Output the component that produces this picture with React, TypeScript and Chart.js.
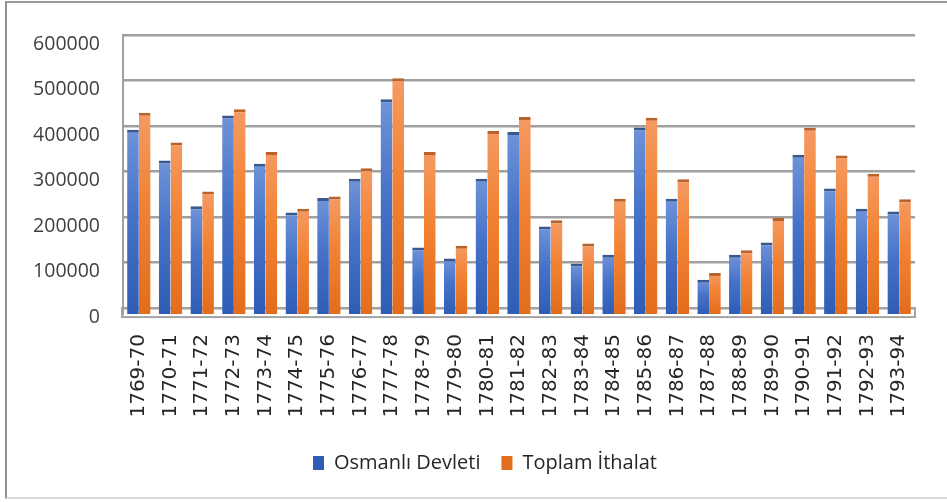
import React, { useEffect, useRef } from "react";
import { Chart, registerables } from "chart.js";

Chart.register(...registerables);

const years = [
  "1769-70", "1770-71", "1771-72", "1772-73", "1773-74", "1774-75", "1775-76",
  "1776-77", "1777-78", "1778-79", "1779-80", "1780-81", "1781-82", "1782-83",
  "1783-84", "1784-85", "1785-86", "1786-87", "1787-88", "1788-89", "1789-90",
  "1790-91", "1791-92", "1792-93", "1793-94",
];

const osmanliDevleti = [
  392000, 324000, 224000, 423000, 317000, 210000, 242000, 284000, 459000, 133000,
  109000, 284000, 387000, 179000, 98000, 117000, 397000, 240000, 62000, 117000,
  144000, 337000, 263000, 218000, 212000,
];

const toplamIthalat = [
  429000, 364000, 256000, 437000, 343000, 218000, 245000, 307000, 505000, 343000,
  137000, 389000, 420000, 193000, 142000, 240000, 418000, 283000, 77000, 127000,
  198000, 396000, 335000, 295000, 239000,
];

const seriesNames = ["Osmanlı Devleti", "Toplam İthalat"];
const yTicks = [0, 100000, 200000, 300000, 400000, 500000, 600000];

const FLOOR_DEPTH = -13000;

function gradientFill(light: string, mid: string, dark: string) {
  return (ctx: any) => {
    const chart = ctx.chart;
    const area = chart.chartArea;
    if (!area || ctx.type !== "data" || !ctx.parsed) return mid;
    const ys = chart.scales.y;
    const top = ys.getPixelForValue(ctx.parsed.y);
    const bottom = ys.getPixelForValue(ys.min);
    if (!isFinite(top) || !isFinite(bottom) || bottom - top < 1) return mid;
    const g = chart.ctx.createLinearGradient(0, top, 0, bottom);
    g.addColorStop(0, light);
    g.addColorStop(0.45, mid);
    g.addColorStop(1, dark);
    return g;
  };
}

const floorPlugin = {
  id: "floorPlugin",
  beforeDatasetsDraw(chart: any) {
    const { ctx, chartArea, scales } = chart;
    const y0 = scales.y.getPixelForValue(0);
    ctx.save();
    ctx.strokeStyle = "#a3a3a3";
    ctx.lineWidth = 2;
    ctx.strokeRect(chartArea.left - 1, y0, chartArea.right - chartArea.left + 1, 9);
    ctx.restore();
  },
};

export default function App() {
  const ref = useRef<HTMLCanvasElement | null>(null);

  useEffect(() => {
    if (!ref.current) return;
    const chart = new Chart(ref.current, {
      type: "bar",
      data: {
        labels: years,
        datasets: [
          {
            label: seriesNames[0],
            data: osmanliDevleti,
            backgroundColor: gradientFill("#6F93D9", "#4673C8", "#2F5DB5"),
            borderColor: "#3A5890",
            borderWidth: { top: 3, left: 0, right: 0, bottom: 0 },
            borderSkipped: false,
            base: FLOOR_DEPTH,
          },
          {
            label: seriesNames[1],
            data: toplamIthalat,
            backgroundColor: gradientFill("#F59A62", "#F28233", "#E26D1C"),
            borderColor: "#B8622C",
            borderWidth: { top: 3, left: 0, right: 0, bottom: 0 },
            borderSkipped: false,
            base: FLOOR_DEPTH,
          },
        ] as any,
      },
      options: {
        animation: false,
        responsive: false,
        devicePixelRatio: 1,
        layout: { padding: { left: 33, right: 10, top: 35, bottom: 19 } },
        datasets: {
          bar: { categoryPercentage: 0.74, barPercentage: 1.0 },
        },
        scales: {
          x: {
            grid: { display: false, drawTicks: false },
            border: { display: false },
            ticks: {
              autoSkip: false,
              maxRotation: 90,
              minRotation: 90,
              padding: 20,
              color: "#262626",
              font: { family: "DejaVu Sans", size: 20 },
            },
            afterFit: (s: any) => {
              s.height = 118;
            },
          },
          y: {
            min: FLOOR_DEPTH,
            max: 600000,
            afterBuildTicks: (s: any) => {
              s.ticks = yTicks.map((v) => ({ value: v }));
            },
            grid: { color: "#a0a0a0", lineWidth: 2.5, drawTicks: false },
            border: { display: true, color: "#a0a0a0", width: 2 },
            ticks: {
              padding: 23,
              labelOffset: 9,
              color: "#404040",
              font: { family: "Open Sans", size: 19.5 },
              callback: (v: any) => String(v),
            },
            afterFit: (s: any) => {
              s.width = 90;
            },
          },
          yr: {
            type: "linear",
            position: "right",
            display: true,
            grid: { display: false, drawTicks: false },
            border: { display: false },
            ticks: { display: false },
            afterFit: (s: any) => {
              s.width = 22;
            },
          },
        } as any,
        plugins: {
          legend: {
            position: "bottom",
            labels: {
              boxWidth: 11,
              boxHeight: 14,
              padding: 21,
              color: "#262626",
              font: { family: "Open Sans", size: 20 },
              generateLabels: (chart: any) =>
                Chart.defaults.plugins.legend.labels
                  .generateLabels(chart)
                  .map((l: any) => ({ ...l, lineWidth: 0, strokeStyle: "rgba(0,0,0,0)" })),
            },
          },
          tooltip: { enabled: false },
        },
      },
      plugins: [floorPlugin],
    });
    return () => chart.destroy();
  }, []);

  return (
    <div style={{ position: "fixed", left: 0, top: 0, width: 947, height: 502, background: "#fff" }}>
      <div
        style={{
          position: "absolute",
          left: 5,
          top: 1,
          width: 960,
          height: 498,
          borderLeft: "2px solid #8f8f8f",
          borderTop: "2px solid #9a9a9a",
          borderBottom: "2px solid #d9d9d9",
          boxSizing: "border-box",
        }}
      />
      <canvas ref={ref} width={947} height={502} style={{ position: "absolute", left: 0, top: 0, width: 947, height: 502 }} />
    </div>
  );
}
